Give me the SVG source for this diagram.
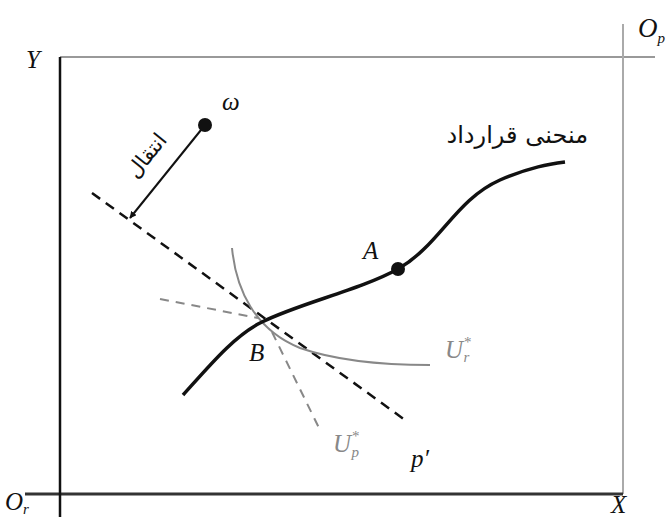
<svg xmlns="http://www.w3.org/2000/svg" width="670" height="517" viewBox="0 0 670 517">
<style>
.lbl{font-family:"Liberation Serif",serif;font-style:italic;font-size:25px;fill:#111}
.glbl{font-family:"Liberation Serif",serif;font-style:italic;font-size:25px;fill:#888}
.sup{font-size:15px;font-style:normal}
.sub{font-size:15px}
.ar{font-family:"DejaVu Sans","Noto Sans",sans-serif;font-size:17px;fill:#111}
</style>
<defs>
<marker id="ah" viewBox="0 0 10 10" refX="9" refY="5" markerWidth="7" markerHeight="7" orient="auto" markerUnits="userSpaceOnUse">
<path d="M0,0 L10,5 L0,10 Z" fill="#111"/>
</marker>
</defs>
<rect width="670" height="517" fill="#fff"/>
<g id="axes">
<line x1="60" y1="57" x2="655" y2="57" stroke="#999" stroke-width="2"/>
<line x1="623" y1="24" x2="623" y2="494" stroke="#aaa" stroke-width="2"/>
<line x1="25" y1="494" x2="623" y2="494" stroke="#333" stroke-width="3"/>
<line x1="60" y1="57" x2="60" y2="517" stroke="#111" stroke-width="2.5"/>
<text class="lbl" x="26" y="68">Y</text>
<text class="lbl" x="638" y="37" style="font-size:27px">O<tspan class="sub" dy="6">p</tspan></text>
<text class="lbl" x="5" y="510">O<tspan class="sub" dy="4">r</tspan></text>
<text class="lbl" x="611" y="513">X</text>
</g>
<g id="connectors">
<line x1="92" y1="193" x2="405" y2="420" stroke="#111" stroke-width="2.5" stroke-dasharray="10,7"/>
<line x1="160" y1="299" x2="258" y2="318" stroke="#888" stroke-width="2" stroke-dasharray="9,7"/>
<line x1="272" y1="332" x2="320" y2="430" stroke="#888" stroke-width="2" stroke-dasharray="9,7"/>
<path d="M232,248 C236,290 255,330 300,348 C340,362 390,365 430,365" fill="none" stroke="#888" stroke-width="2"/>
<path d="M183,395 C210,365 235,335 262,322 C300,303 360,290 398,269 C440,245 455,200 500,180 C530,167 550,164 565,162" fill="none" stroke="#111" stroke-width="3.5"/>
<line x1="205" y1="125" x2="130" y2="218" stroke="#111" stroke-width="2" marker-end="url(#ah)"/>
<text class="ar" transform="translate(152,160) rotate(-51)" text-anchor="middle" style="font-size:21px">انتقال</text>
</g>
<g id="omega">
<circle cx="205" cy="125" r="7" fill="#111"/>
<text class="lbl" x="222" y="110">ω</text>
</g>
<g id="A">
<circle cx="398" cy="269" r="7" fill="#111"/>
<text class="lbl" x="363" y="259">A</text>
</g>
<g id="B">
<text class="lbl" x="249" y="361">B</text>
</g>
<g id="contract-label">
<text class="ar" x="588" y="143" text-anchor="end" style="font-size:24px">منحنی قرارداد</text>
</g>
<g id="Ur">
<text class="glbl" x="445" y="358">U<tspan class="sup" dx="1" dy="-11">*</tspan><tspan class="sub" dx="-8" dy="15" font-style="italic">r</tspan></text>
</g>
<g id="Up">
<text class="glbl" x="333" y="452">U<tspan class="sup" dx="1" dy="-11">*</tspan><tspan class="sub" dx="-8" dy="16" font-style="italic">p</tspan></text>
</g>
<g id="pprime">
<text class="lbl" x="411" y="467">p′</text>
</g>
</svg>
